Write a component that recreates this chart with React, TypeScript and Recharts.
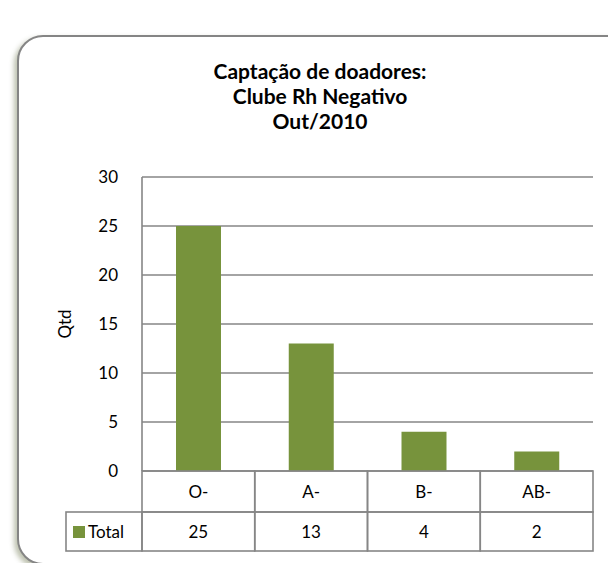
import React from "react";
import { BarChart, Bar, XAxis, YAxis, CartesianGrid } from "recharts";

const categories = ["O-", "A-", "B-", "AB-"];
const totals = [25, 13, 4, 2];
const yTicks = [0, 5, 10, 15, 20, 25, 30];
const seriesName = "Total";
const titleLines = ["Captação de doadores:", "Clube Rh Negativo", "Out/2010"];

const data = categories.map((name, i) => ({ name, Total: totals[i] }));

const GREEN = "#77933C";
const LINE = "#868686";
const FONT = "Lato, 'Open Sans', sans-serif";
const FS = 17;

// draws one column of the data table under the plot
const TableTick = (props: any) => {
  const { x, y, payload } = props;
  const half = payload.offset;
  const i = payload.index;
  const row1 = 41;
  const row2 = 39;
  const left = x - half;
  return (
    <g>
      <rect x={left} y={y} width={half * 2} height={row1} fill="none" stroke={LINE} strokeWidth={1.6} />
      <rect x={left} y={y + row1} width={half * 2} height={row2} fill="none" stroke={LINE} strokeWidth={1.6} />
      <text x={x} y={y + row1 / 2 + 6} textAnchor="middle" fontSize={FS} fontFamily={FONT} fill="#000">
        {payload.value}
      </text>
      <text x={x} y={y + row1 + row2 / 2 + 6} textAnchor="middle" fontSize={FS} fontFamily={FONT} fill="#000">
        {totals[i]}
      </text>
      {i === 0 && (
        <g>
          <rect x={left - 76} y={y + row1} width={76} height={row2} fill="none" stroke={LINE} strokeWidth={1.6} />
          <rect x={left - 69} y={y + row1 + 14} width={12} height={12} fill={GREEN} />
          <text x={left - 54} y={y + row1 + row2 / 2 + 6} fontSize={FS} fontFamily={FONT} fill="#000">
            {seriesName}
          </text>
        </g>
      )}
    </g>
  );
};

export default function App() {
  return (
    <div style={{ position: "absolute", left: 0, top: 0, width: 608, height: 563, overflow: "hidden", background: "#fff" }}>
      <div
        style={{
          position: "absolute",
          left: 17,
          top: 35,
          width: 620,
          height: 526,
          border: "2px solid #858585",
          borderRadius: 26,
          boxShadow: "-3px 3px 5px rgba(110,120,80,0.45)",
          background: "#fff",
        }}
      />
      <div
        style={{
          position: "absolute",
          left: 220,
          width: 200,
          top: 58,
          textAlign: "center",
          fontFamily: FONT,
          fontWeight: 700,
          fontSize: 21,
          lineHeight: "25px",
          color: "#000",
        }}
      >
        {titleLines.map((t) => (
          <div key={t} style={{ whiteSpace: "nowrap", marginLeft: -60, marginRight: -60 }}>
            {t}
          </div>
        ))}
      </div>
      <div style={{ position: "absolute", left: 0, top: 0 }}>
        <BarChart
          width={608}
          height={563}
          data={data}
          margin={{ top: 177, right: 15, left: 60, bottom: 12 }}
          barCategoryGap="30%"
        >
          <CartesianGrid horizontal vertical={false} stroke={LINE} strokeWidth={1.6} />
          <XAxis
            dataKey="name"
            height={80}
            axisLine={false}
            tickLine={false}
            tickSize={0}
            tickMargin={0}
            interval={0}
            tick={<TableTick />}
          />
          <YAxis
            width={82}
            domain={[0, 30]}
            ticks={yTicks}
            interval={0}
            axisLine={{ stroke: LINE, strokeWidth: 1.6 }}
            tickLine={false}
            tickSize={0}
            tickMargin={24}
            tick={{ fill: "#000", fontSize: FS, fontFamily: FONT }}
            label={{
              value: "Qtd",
              angle: -90,
              position: "insideLeft",
              offset: 5,
              fill: "#000",
              fontSize: FS,
              fontFamily: FONT,
              style: { textAnchor: "middle" },
            }}
          />
          <Bar dataKey="Total" fill={GREEN} barSize={45} isAnimationActive={false} />
        </BarChart>
      </div>
    </div>
  );
}
